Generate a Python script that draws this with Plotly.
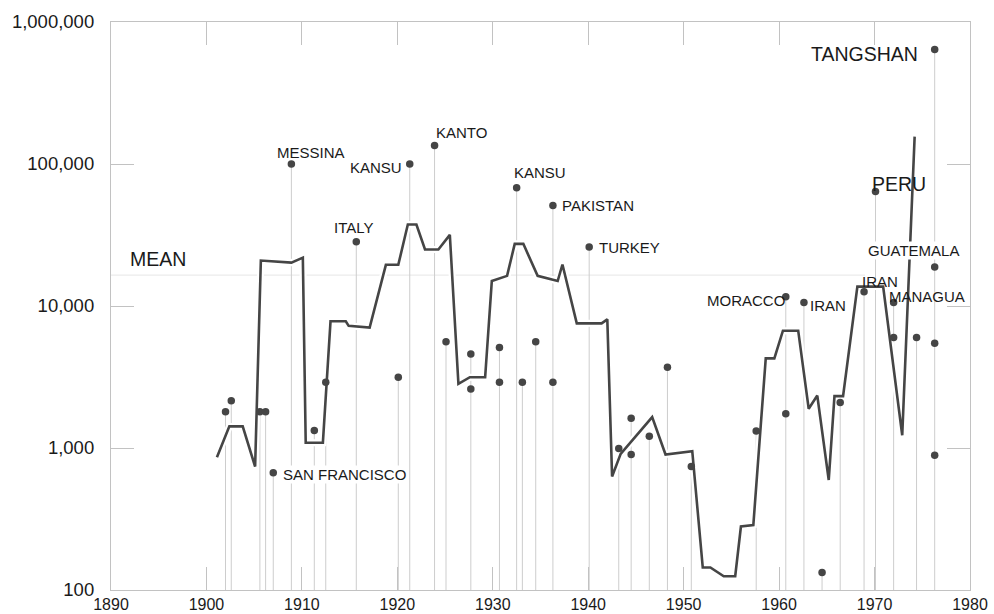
import math
import plotly.graph_objects as go

# ---- data ----
quake_years = [1902.0, 1902.6, 1905.6, 1906.2, 1907.0, 1908.9, 1911.3, 1912.5, 1915.7, 1920.1,
               1921.3, 1923.9, 1925.1, 1927.7, 1927.7, 1930.7, 1930.7, 1932.5, 1933.1, 1934.5,
               1936.3, 1936.3, 1940.1, 1943.2, 1944.5, 1944.5, 1946.4, 1948.3, 1950.8, 1957.6,
               1960.7, 1960.7, 1962.6, 1964.5, 1966.4, 1968.9, 1970.1, 1972.0, 1972.0, 1974.4,
               1976.3, 1976.3, 1976.3, 1976.3]
quake_deaths = [1800, 2150, 1800, 1800, 670, 100000, 1330, 2900, 28300, 3150,
                100000, 135000, 5600, 4600, 2600, 5100, 2900, 68000, 2900, 5600,
                51000, 2900, 26000, 990, 1620, 900, 1210, 3700, 740, 1320,
                11600, 1740, 10600, 133, 2090, 12600, 64000, 10600, 6000, 6000,
                640000, 18800, 5460, 890]

label_names = ["SAN FRANCISCO", "MESSINA", "ITALY", "KANSU", "KANTO", "KANSU", "PAKISTAN",
               "TURKEY", "MORACCO", "IRAN", "IRAN", "PERU", "MANAGUA", "GUATEMALA", "TANGSHAN"]
label_years = [1907.0, 1908.9, 1915.7, 1921.3, 1923.9, 1932.5, 1936.3,
               1940.1, 1960.7, 1962.6, 1968.9, 1970.1, 1972.0, 1976.3, 1976.3]
label_deaths = [670, 100000, 28300, 100000, 135000, 68000, 51000,
                26000, 11600, 10600, 12600, 64000, 10600, 18800, 640000]

mean_years = [1901.1, 1902.4, 1903.8, 1905.1, 1905.7, 1908.9, 1910.1, 1910.4, 1912.2, 1913.0,
              1914.6, 1914.9, 1917.1, 1918.8, 1920.1, 1921.1, 1922.0, 1922.9, 1924.3, 1925.5,
              1926.4, 1927.6, 1929.2, 1929.9, 1931.5, 1932.3, 1933.2, 1934.7, 1936.8, 1937.3,
              1938.8, 1941.4, 1942.0, 1942.5, 1943.4, 1946.7, 1948.1, 1950.9, 1952.0, 1952.8,
              1954.2, 1955.4, 1956.0, 1957.3, 1958.6, 1959.5, 1960.4, 1962.0, 1963.1, 1964.0,
              1965.2, 1965.8, 1966.7, 1968.2, 1970.9, 1972.9, 1974.2]
mean_deaths = [860, 1420, 1420, 740, 20900, 20200, 21900, 1090, 1090, 7800,
               7800, 7250, 7050, 19500, 19500, 37500, 37500, 25000, 25000, 31700,
               2830, 3150, 3150, 15000, 16300, 27400, 27400, 16300, 15000, 19600,
               7550, 7550, 8050, 630, 910, 1650, 900, 950, 144, 144,
               125, 125, 280, 287, 4280, 4280, 6700, 6700, 1890, 2340,
               595, 2320, 2320, 13700, 13700, 1230, 156000]

overall_mean = 16500
mean_span = [1890, 1969]
mean_label_year = 1891.8
mean_label_deaths = 21600

x_ticks = [1890, 1900, 1910, 1920, 1930, 1940, 1950, 1960, 1970, 1980]
y_ticks = [100, 1000, 10000, 100000, 1000000]
y_tick_text = ["100", "1,000", "10,000", "100,000", "1,000,000"]

# ---- styling ----
FONT = "Liberation Sans, Arial, Helvetica, sans-serif"
FRAME = "#c2c2c2"
STEM = "#cdcdcd"
DARK = "#454545"
TEXT = "#1a1a1a"
AXIS_BOTTOM = 100

# stems: one per year, from the axis bottom up to the highest dot of that year
top_by_year = {}
for yr, d in zip(quake_years, quake_deaths):
    top_by_year[yr] = max(d, top_by_year.get(yr, 0))
stem_x, stem_y = [], []
for yr, d in top_by_year.items():
    stem_x += [yr, yr, None]
    stem_y += [AXIS_BOTTOM, d, None]

fig = go.Figure()

fig.add_trace(go.Scatter(x=mean_span, y=[overall_mean, overall_mean], mode="lines",
                         line=dict(color="#e6e6e6", width=1), hoverinfo="skip", showlegend=False))
fig.add_trace(go.Scatter(x=stem_x, y=stem_y, mode="lines",
                         line=dict(color=STEM, width=1), hoverinfo="skip", showlegend=False))
# white halo under the running line
fig.add_trace(go.Scatter(x=mean_years, y=mean_deaths, mode="lines",
                         line=dict(color="white", width=7), hoverinfo="skip", showlegend=False))
fig.add_trace(go.Scatter(x=mean_years, y=mean_deaths, mode="lines",
                         line=dict(color=DARK, width=2.6), showlegend=False))
fig.add_trace(go.Scatter(x=quake_years, y=quake_deaths, mode="markers",
                         marker=dict(color=DARK, size=7.5), showlegend=False))

# label placement (xanchor, xshift, yshift, font size, white background)
placement = {
    0: ("left", 9, -2, 15, True),
    1: ("center", 20, 12, 15, False),
    2: ("center", -3, 14, 15, False),
    3: ("right", -7, -3, 15, False),
    4: ("left", 0, 13, 15, False),
    5: ("left", -4, 15, 15, False),
    6: ("left", 8, 0, 15, False),
    7: ("left", 9, 0, 15, False),
    8: ("right", 0, -4, 15, False),
    9: ("left", 5, -3, 15, False),
    10: ("left", -3, 10, 15, False),
    11: ("left", -5, 8, 19.5, False),
    12: ("left", -6, 6, 15, False),
    13: ("left", -68, 17, 15, True),
    14: ("right", -16, -4, 19.5, False),
}
annotations = []
for i, (name, yr, d) in enumerate(zip(label_names, label_years, label_deaths)):
    xa, xs, ys, fs, bg = placement[i]
    annotations.append(dict(
        x=yr, y=math.log10(d), xref="x", yref="y", text=name, showarrow=False,
        xanchor=xa, yanchor="middle", xshift=xs, yshift=ys,
        font=dict(family=FONT, size=fs, color=TEXT),
        bgcolor="white" if bg else "rgba(0,0,0,0)", borderpad=0))

annotations.append(dict(x=mean_label_year, y=math.log10(mean_label_deaths), xref="x", yref="y",
                        text="MEAN", showarrow=False, xanchor="left", yanchor="middle",
                        font=dict(family=FONT, size=19.5, color=TEXT)))

fig.update_layout(
    width=994, height=614,
    margin=dict(l=111, r=24, t=22, b=24),
    paper_bgcolor="white", plot_bgcolor="white",
    annotations=annotations,
    font=dict(family=FONT, color=TEXT),
    xaxis=dict(range=[1890, 1980], tickvals=x_ticks, ticks="inside", ticklen=23,
               tickcolor=FRAME, tickwidth=1, showline=True, linecolor=FRAME, linewidth=1.2,
               mirror="ticks", showgrid=False, zeroline=False, automargin=False,
               tickfont=dict(family=FONT, size=16, color=TEXT)),
    yaxis=dict(type="log", range=[2, 6], tickvals=y_ticks, ticktext=y_tick_text,
               ticks="inside", ticklen=23, tickcolor=FRAME, tickwidth=1,
               showline=True, linecolor=FRAME, linewidth=1.2, mirror="ticks",
               showgrid=False, zeroline=False, ticklabelstandoff=12, automargin=False,
               tickfont=dict(family=FONT, size=18.5, color=TEXT)),
)

fig.write_html("out.html")
